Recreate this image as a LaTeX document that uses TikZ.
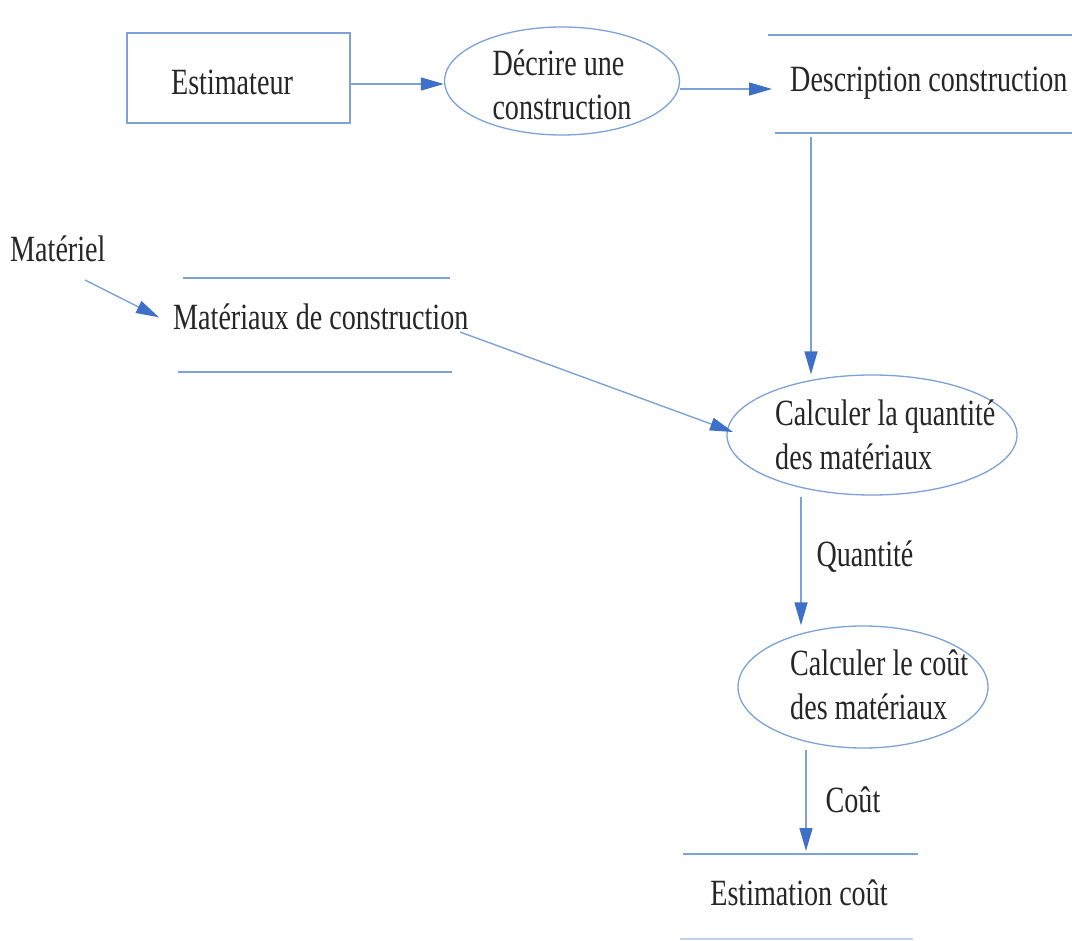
\documentclass[tikz,border=0pt]{standalone}
\usepackage{fontspec}
\setmainfont[FakeStretch=0.76]{Liberation Serif}
\usetikzlibrary{arrows.meta,shapes.geometric}
\definecolor{lineblue}{RGB}{125,162,218}
\definecolor{tipblue}{RGB}{62,112,200}
\definecolor{ink}{RGB}{38,38,38}
\tikzset{
  txt/.style={text=ink, font=\fontsize{37}{44}\selectfont, inner sep=0pt},
  entity/.style={draw=lineblue, line width=1.3pt, rectangle},
  proc/.style={draw=lineblue, line width=1.3pt, ellipse, inner sep=0pt},
  ptxt/.style={txt, align=left},
  storeline/.style={draw=lineblue, line width=1.3pt},
  flow/.style={draw=lineblue, line width=1.4pt, -{Triangle[length=23pt,width=13pt,color=tipblue]}}
}
\begin{document}
\begin{tikzpicture}[x=1pt,y=-1pt]
\useasboundingbox (0,0) rectangle (1072,941);
\fill[white] (0,0) rectangle (1072,941);

% Estimateur (external entity)
\node[entity, minimum width=223pt, minimum height=90pt] (est) at (238.5,78) {};
\node[txt] (estt) at (232,82) {Estimateur};

% Décrire une construction
\node[proc, minimum width=235pt, minimum height=108pt] (decr) at (562,81) {};
\node[ptxt] (decrt) at (562,85) {Décrire une\\construction};

% Description construction (data store)
\node[txt, anchor=base west] (desc) at (790,92) {Description construction};
\draw[storeline] (768,35) -- (1072,35);
\draw[storeline] (775,133) -- (1072,133);

% Matériel
\node[txt, anchor=base west] (mtl) at (10,262) {Matériel};

% Matériaux de construction (data store)
\node[txt, anchor=base west] (matx) at (173,330) {Matériaux de construction};
\draw[storeline] (183,278) -- (450,278);
\draw[storeline] (178,372) -- (452,372);

% Calculer la quantité
\node[proc, minimum width=290pt, minimum height=120pt] (qty) at (872,435) {};
\node[ptxt, anchor=north west] (qtyt) at (775,400) {Calculer la quantité\\des matériaux};

% Calculer le coût
\node[proc, minimum width=250pt, minimum height=122pt] (cost) at (863,687) {};
\node[ptxt, anchor=north west] (costt) at (790,650) {Calculer le coût\\des matériaux};

% Estimation coût (data store)
\node[txt] (ec) at (799,893) {Estimation coût};
\draw[storeline] (683,854) -- (918,854);
\draw[storeline, draw opacity=0.5] (680,939) -- (913,939);

% labels
\node[txt] (ql) at (865,557) {Quantité};
\node[txt] (cl) at (853,800) {Coût};

% connector end points
\coordinate (estout) at (350,84);
\coordinate (descin) at (772,89);
\coordinate (descout) at (811,137);
\coordinate (m1) at (85,280);
\coordinate (matout) at (460,332);
\coordinate (qtyin) at (733,432);
\coordinate (qtyout) at (801,497);
\coordinate (costout) at (806,750);
\coordinate (ecin) at (806,851);

% connectors
\draw[flow] (estout) -- (estout -| decr.west);
\draw[flow] (decr.east |- descin) -- (descin);
\draw[flow] (descout) -- (descout |- qty.north);
\draw[flow] (m1) -- ([xshift=-14pt]matx.west);
\draw[flow] (matout) -- (qtyin);
\draw[flow] (qtyout) -- (qtyout |- cost.north);
\draw[flow] (costout) -- (ecin);
\end{tikzpicture}
\end{document}
